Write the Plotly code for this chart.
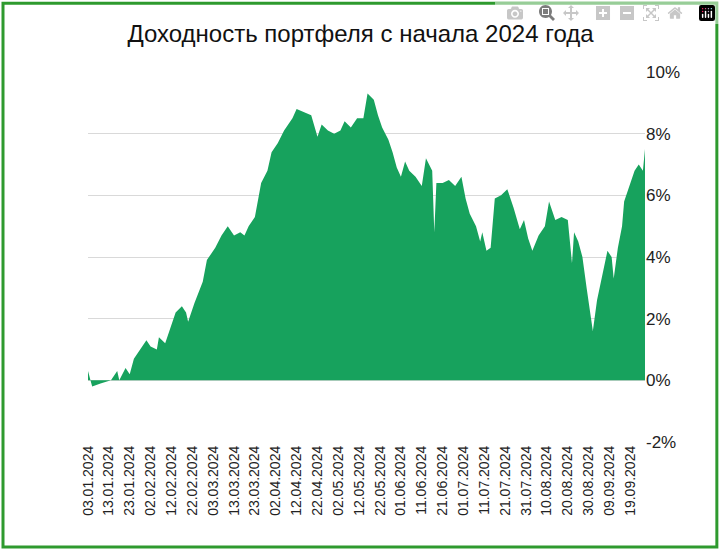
import plotly.graph_objects as go

dates = ["2024-01-03","2024-01-05","2024-01-09","2024-01-14","2024-01-17","2024-01-18","2024-01-21","2024-01-23","2024-01-25","2024-01-28","2024-01-31","2024-02-02","2024-02-05","2024-02-06","2024-02-09","2024-02-11","2024-02-14","2024-02-17","2024-02-19","2024-02-20","2024-02-23","2024-02-27","2024-02-29","2024-03-04","2024-03-07","2024-03-10","2024-03-13","2024-03-16","2024-03-18","2024-03-20","2024-03-23","2024-03-26","2024-03-29","2024-03-31","2024-04-03","2024-04-06","2024-04-10","2024-04-12","2024-04-16","2024-04-19","2024-04-22","2024-04-24","2024-04-27","2024-04-30","2024-05-03","2024-05-05","2024-05-08","2024-05-11","2024-05-14","2024-05-16","2024-05-19","2024-05-21","2024-05-23","2024-05-26","2024-05-28","2024-05-30","2024-06-01","2024-06-03","2024-06-05","2024-06-08","2024-06-11","2024-06-13","2024-06-16","2024-06-17","2024-06-18","2024-06-21","2024-06-24","2024-06-27","2024-06-30","2024-07-02","2024-07-04","2024-07-07","2024-07-09","2024-07-10","2024-07-12","2024-07-14","2024-07-16","2024-07-19","2024-07-22","2024-07-25","2024-07-28","2024-07-30","2024-08-01","2024-08-03","2024-08-06","2024-08-09","2024-08-11","2024-08-14","2024-08-17","2024-08-20","2024-08-22","2024-08-23","2024-08-25","2024-08-27","2024-08-29","2024-09-01","2024-09-03","2024-09-06","2024-09-08","2024-09-10","2024-09-11","2024-09-13","2024-09-15","2024-09-16","2024-09-18","2024-09-21","2024-09-23","2024-09-25","2024-09-26"]
returns = [0.3,-0.2,-0.1,0.0,0.3,0.0,0.4,0.2,0.7,1.0,1.3,1.1,1.0,1.4,1.2,1.6,2.2,2.4,2.2,1.9,2.5,3.2,3.9,4.3,4.7,5.0,4.7,4.8,4.7,5.0,5.3,6.4,6.8,7.4,7.7,8.1,8.5,8.8,8.7,8.6,7.9,8.3,8.1,8.0,8.1,8.4,8.2,8.5,8.5,9.3,9.1,8.6,8.2,7.8,7.4,6.9,6.6,7.1,6.8,6.6,6.3,7.2,6.8,4.8,6.4,6.4,6.5,6.3,6.6,5.9,5.4,5.0,4.5,4.8,4.2,4.3,5.9,6.0,6.2,5.6,4.9,5.2,4.6,4.2,4.7,5.0,5.8,5.2,5.3,5.2,3.8,4.8,4.5,4.0,3.0,1.6,2.6,3.5,4.2,4.0,3.3,4.3,5.0,5.8,6.2,6.8,7.0,6.8,7.5]
yticks = [-2, 0, 2, 4, 6, 8, 10]
title = "Доходность портфеля с начала 2024 года"

fig = go.Figure(go.Scatter(x=dates, y=[v/100 for v in returns], mode="lines",
                           line=dict(width=0, color="#17a25d"), fill="tozeroy",
                           fillcolor="#17a25d"))
fig.update_layout(
    width=721, height=550, template="none",
    paper_bgcolor="white", plot_bgcolor="white",
    margin=dict(l=88, r=76, t=72, b=108, autoexpand=False),
    font=dict(family="Liberation Sans, Arial", color="#222"),
    title=dict(text=title, x=0.5, xanchor="center", y=0.955, font=dict(size=24, color="#111")),
    showlegend=False,
    xaxis=dict(type="date", range=["2024-01-03", "2024-09-26"], tick0="2024-01-03",
               dtick=10*86400000, tickformat="%d.%m.%Y", tickangle=-90,
               tickfont=dict(size=14), showgrid=False, showline=False, ticks=""),
    yaxis=dict(side="right", range=[-0.02, 0.10], tickvals=[t/100 for t in yticks],
               ticktext=[f"{t}%" for t in yticks], tickfont=dict(size=17),
               showgrid=True, gridcolor="#d9d9d9", zeroline=False, showline=False),
    shapes=[dict(type="rect", xref="paper", yref="paper",
                 x0=-0.1526, x1=1.129, y0=-0.284, y1=1.186,
                 line=dict(color="#2e9a2e", width=3))],
)
fig.write_html("out.html", post_script="document.body.style.margin='0';document.body.style.overflow='hidden';")
